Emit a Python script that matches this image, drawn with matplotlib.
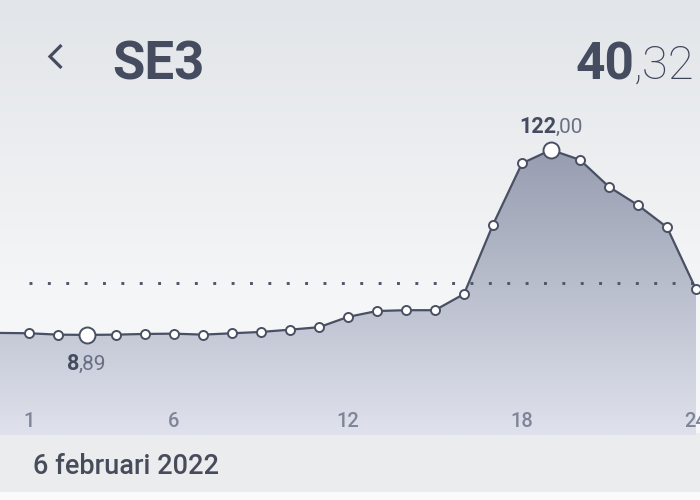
import numpy as np
import matplotlib.pyplot as plt
from matplotlib.lines import Line2D
from matplotlib.colors import LinearSegmentedColormap

# hourly spot prices, SE3, 6 februari 2022 (hour 0 is the tail of the day before)
hours = list(range(0, 25))
prices = [10.1, 9.9, 9.05, 8.89, 9.05, 9.48, 9.66, 9.05, 9.9, 10.7, 12.1, 13.6, 19.9,
          23.5, 24.0, 24.0, 33.9, 76.3, 113.8, 122.0, 115.9, 99.4, 88.2, 74.7, 36.8]
average = 40.32
tick_hours = [1, 6, 12, 18, 24]
tick_labels = ["1", "6", "12", "18", "24"]
area = "SE3"
date_label = "6 februari 2022"

dark = "#464c5f"
plt.rcParams['font.family'] = ['Roboto', 'DejaVu Sans']

W, H = 700, 500
fig = plt.figure(figsize=(7, 5), dpi=100)

# page background: grey-blue at the top, fading lighter, then the date strip
bg = fig.add_axes([0, 0, 1, 1])
bg.set_axis_off()
bg_cmap = LinearSegmentedColormap.from_list(
    "bg", [(0, "#e2e5e9"), (0.6, "#f5f6f7"), (0.87, "#f6f7f8"),
           (0.8701, "#ebecee"), (0.986, "#ebecee"), (0.9861, "#fafafa"), (1, "#fafafa")])
bg.imshow(np.linspace(0, 1, 500).reshape(-1, 1), aspect="auto", cmap=bg_cmap,
          extent=[0, 1, 0, 1], origin="upper")
bg.set_xlim(0, 1)
bg.set_ylim(0, 1)

# chart area: 29 px per hour, from y=100 to y=435 px
ax = fig.add_axes([0, 65 / H, 1, 335 / H])
ax.set_xlim(0, W / 29)
ax.set_ylim(-52.3, 152.5)
ax.set_axis_off()
ax.patch.set_alpha(0)

ymin = ax.get_ylim()[0]
poly = ax.fill_between(hours, prices, ymin, color="none", lw=0)
fill_cmap = LinearSegmentedColormap.from_list("fill", ["#dfe2ec", "#979db0"])
grad = ax.imshow(np.linspace(0, 1, 300).reshape(-1, 1), aspect="auto", cmap=fill_cmap,
                 extent=[0, W / 29, ymin, 122], origin="lower", zorder=1)
grad.set_clip_path(poly.get_paths()[0], transform=ax.transData)
ax.set_ylim(-52.3, 152.5)

ax.axhline(average, xmin=0.042, xmax=0.99, color="#50566a", lw=2.1,
           linestyle=(0, (1, 5.3)), zorder=2)

ax.plot(hours, prices, color="#4a5064", lw=1.6, zorder=3)
ax.plot(hours[1:], prices[1:], "o", ms=6.5, mfc="white", mec="#4a5064", mew=1.4, zorder=4)

i_min = prices.index(min(prices[1:]))
i_max = prices.index(max(prices))
for i in (i_min, i_max):
    ax.plot(hours[i], prices[i], "o", ms=11.5, mfc="white", mec="#4a5064", mew=1.4, zorder=5)


def price_label(i, dx, dy):
    whole, dec = f"{prices[i]:.2f}".split(".")
    ax.annotate(whole, (hours[i], prices[i]), xytext=(dx, dy), textcoords="offset pixels",
                ha="right", va="baseline", fontsize=15.5, fontweight="bold", color=dark)
    ax.annotate("," + dec, (hours[i], prices[i]), xytext=(dx, dy), textcoords="offset pixels",
                ha="left", va="baseline", fontsize=15, fontweight="normal", color="#6a7083")


price_label(i_max, 5, 17)
price_label(i_min, -8, -35)

for h, lab in zip(tick_hours, tick_labels):
    ax.text(h, 0.024, lab, transform=ax.get_xaxis_transform(), ha="center", va="baseline",
            fontsize=14.5, fontweight="medium", color="#7f8598")

# header
fig.add_artist(Line2D([61.5 / W, 50 / W, 61.5 / W], [1 - 45 / H, 1 - 56.5 / H, 1 - 68 / H],
                      transform=fig.transFigure, color=dark, lw=2.3,
                      solid_joinstyle="miter", solid_capstyle="butt"))
fig.text(112 / W, 1 - 79 / H, area, ha="left", va="baseline", fontsize=38,
         fontweight="bold", color=dark)
whole, dec = f"{average:.2f}".split(".")
fig.text(634 / W, 1 - 79 / H, whole, ha="right", va="baseline", fontsize=37,
         fontweight="bold", color=dark)
fig.text(634 / W, 1 - 79 / H, "," + dec, ha="left", va="baseline", fontsize=34,
         fontweight="light", color="#3e4457")

fig.text(33 / W, 1 - 474 / H, date_label, ha="left", va="baseline", fontsize=19.5,
         fontweight="medium", color="#474c5b")

fig.savefig("out.png", dpi=100)
